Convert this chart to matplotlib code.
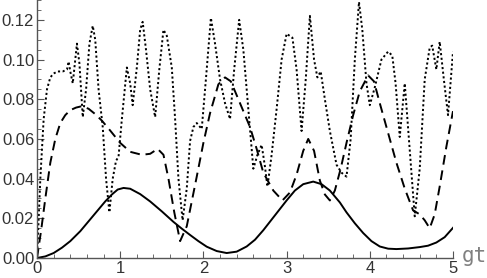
import numpy as np
import matplotlib
matplotlib.use("Agg")
import matplotlib.pyplot as plt

plt.rcParams['font.family'] = ['Liberation Sans', 'DejaVu Sans']

# solid curve
t_solid = [0.0, 0.1, 0.2, 0.3, 0.4, 0.52, 0.62, 0.72, 0.82, 0.9, 0.97, 1.04, 1.12, 1.24,
           1.36, 1.5, 1.64, 1.74, 1.84, 1.94, 2.04, 2.16, 2.28, 2.4, 2.52, 2.62, 2.72,
           2.86, 3.0, 3.1, 3.2, 3.32, 3.42, 3.52, 3.64, 3.72, 3.82, 3.92, 4.02, 4.12,
           4.22, 4.32, 4.46, 4.6, 4.7, 4.8, 4.9, 5.0]
y_solid = [0.0, 0.0008, 0.0025, 0.0052, 0.0085, 0.0135, 0.0185, 0.0235, 0.0285, 0.032,
           0.0345, 0.0353, 0.0349, 0.0322, 0.0285, 0.0235, 0.0182, 0.0148, 0.0116, 0.0085,
           0.0057, 0.0035, 0.0025, 0.0032, 0.0058, 0.0092, 0.014, 0.0215, 0.029, 0.034,
           0.0372, 0.0385, 0.0372, 0.034, 0.028, 0.023, 0.0175, 0.0126, 0.0085, 0.0058,
           0.0047, 0.0045, 0.0048, 0.0055, 0.0062, 0.0078, 0.0105, 0.0152]

# dashed curve
t_dash = [0.0, 0.05, 0.1, 0.16, 0.22, 0.28, 0.34, 0.4, 0.47, 0.54, 0.62, 0.7, 0.78,
          0.88, 1.0, 1.12, 1.26, 1.36, 1.45, 1.52, 1.58, 1.65, 1.72, 1.8, 1.92, 2.0,
          2.08, 2.18, 2.26, 2.33, 2.4, 2.48, 2.56, 2.64, 2.72, 2.84, 2.95, 3.04, 3.12,
          3.2, 3.26, 3.33, 3.4, 3.46, 3.52, 3.58, 3.65, 3.72, 3.8, 3.88, 3.98, 4.05,
          4.12, 4.22, 4.32, 4.42, 4.52, 4.6, 4.66, 4.72, 4.78, 4.84, 4.92, 5.0]
y_dash = [0.0, 0.014, 0.03, 0.048, 0.06, 0.068, 0.072, 0.0745, 0.0758, 0.0765, 0.0752,
          0.0725, 0.0692, 0.0642, 0.058, 0.0535, 0.052, 0.0525, 0.055, 0.052, 0.04,
          0.023, 0.0085, 0.016, 0.041, 0.058, 0.073, 0.0875, 0.091, 0.089, 0.082, 0.074,
          0.066, 0.055, 0.043, 0.034, 0.029, 0.033, 0.042, 0.054, 0.06, 0.054, 0.039,
          0.032, 0.029, 0.034, 0.045, 0.058, 0.072, 0.084, 0.092, 0.089, 0.078, 0.063,
          0.048, 0.035, 0.024, 0.022, 0.019, 0.015, 0.022, 0.036, 0.056, 0.074]

# dotted curve
t_dot = [0.0, 0.04, 0.08, 0.12, 0.16, 0.2, 0.25, 0.31, 0.36, 0.38, 0.4, 0.43, 0.46,
         0.48, 0.51, 0.55, 0.59, 0.63, 0.67, 0.7, 0.74, 0.79, 0.83, 0.87, 0.91, 0.95,
         0.98, 1.02, 1.08, 1.12, 1.15, 1.2, 1.24, 1.27, 1.31, 1.36, 1.39, 1.42, 1.47,
         1.52, 1.56, 1.62, 1.66, 1.7, 1.75, 1.8, 1.84, 1.88, 1.92, 1.98, 2.03, 2.09,
         2.14, 2.2, 2.26, 2.32, 2.37, 2.43, 2.48, 2.54, 2.6, 2.65, 2.7, 2.74, 2.77,
         2.82, 2.88, 2.94, 3.0, 3.07, 3.12, 3.18, 3.23, 3.28, 3.33, 3.37, 3.41, 3.46,
         3.52, 3.6, 3.66, 3.72, 3.77, 3.82, 3.87, 3.91, 3.96, 4.0, 4.06, 4.14, 4.22,
         4.27, 4.31, 4.36, 4.42, 4.47, 4.54, 4.6, 4.66, 4.72, 4.75, 4.8, 4.84, 4.89,
         4.94, 5.0]
y_dot = [0.0, 0.04, 0.07, 0.085, 0.091, 0.093, 0.094, 0.094, 0.095, 0.099, 0.094, 0.088,
         0.1, 0.108, 0.098, 0.071, 0.085, 0.108, 0.117, 0.11, 0.085, 0.066, 0.04, 0.023,
         0.04, 0.049, 0.051, 0.07, 0.096, 0.088, 0.077, 0.096, 0.115, 0.119, 0.105,
         0.085, 0.078, 0.071, 0.095, 0.115, 0.112, 0.096, 0.07, 0.04, 0.019, 0.035, 0.059,
         0.066, 0.068, 0.065, 0.09, 0.121, 0.108, 0.09, 0.078, 0.07, 0.095, 0.12, 0.105,
         0.075, 0.045, 0.052, 0.057, 0.046, 0.036, 0.052, 0.075, 0.1, 0.113, 0.111, 0.095,
         0.064, 0.09, 0.122, 0.1, 0.091, 0.094, 0.08, 0.064, 0.047, 0.043, 0.041, 0.06,
         0.1, 0.129, 0.115, 0.088, 0.077, 0.086, 0.1, 0.104, 0.102, 0.088, 0.061, 0.088,
         0.06, 0.021, 0.045, 0.09, 0.106, 0.107, 0.095, 0.109, 0.09, 0.072, 0.104]

fig = plt.figure(figsize=(4.87, 2.78), dpi=100)
ax = fig.add_axes([37/487, 20/278, 416/487, 258/278])

ax.plot(t_solid, y_solid, color='black', lw=1.4, ls='-')
ax.plot(t_dash, y_dash, color='black', lw=1.4, ls=(0, (5, 3)))
ax.plot(t_dot, y_dot, color='black', lw=1.4, ls=(0, (1.1, 1.3)))

ax.set_xlim(0, 5)
ax.set_ylim(0, 0.13)
ax.set_xticks([0, 1, 2, 3, 4, 5])
ax.set_xticks(np.arange(0, 5.01, 0.2), minor=True)
ax.set_yticks([0.0, 0.02, 0.04, 0.06, 0.08, 0.10, 0.12])
ax.set_yticklabels(['0.00', '0.02', '0.04', '0.06', '0.08', '0.10', '0.12'])
ax.set_yticks(np.arange(0, 0.1301, 0.005), minor=True)

for s in ['top', 'right']:
    ax.spines[s].set_visible(False)
for s in ['left', 'bottom']:
    ax.spines[s].set_color('#555555')
    ax.spines[s].set_linewidth(1.0)

ax.tick_params(which='both', direction='in', colors='#555555', labelcolor='#333333',
               labelsize=12)
ax.tick_params(which='major', length=5, width=0.8, pad=2)
ax.tick_params(which='minor', length=3, width=0.6)
ax.patch.set_alpha(0)

# axis label in a monospace face, as in the source
ax.text(1.022, -0.016, 'gt', transform=ax.transAxes, fontsize=15, color='#808080',
        family='DejaVu Sans Mono', ha='left', va='baseline', clip_on=False)

fig.savefig('out.png', dpi=100)
